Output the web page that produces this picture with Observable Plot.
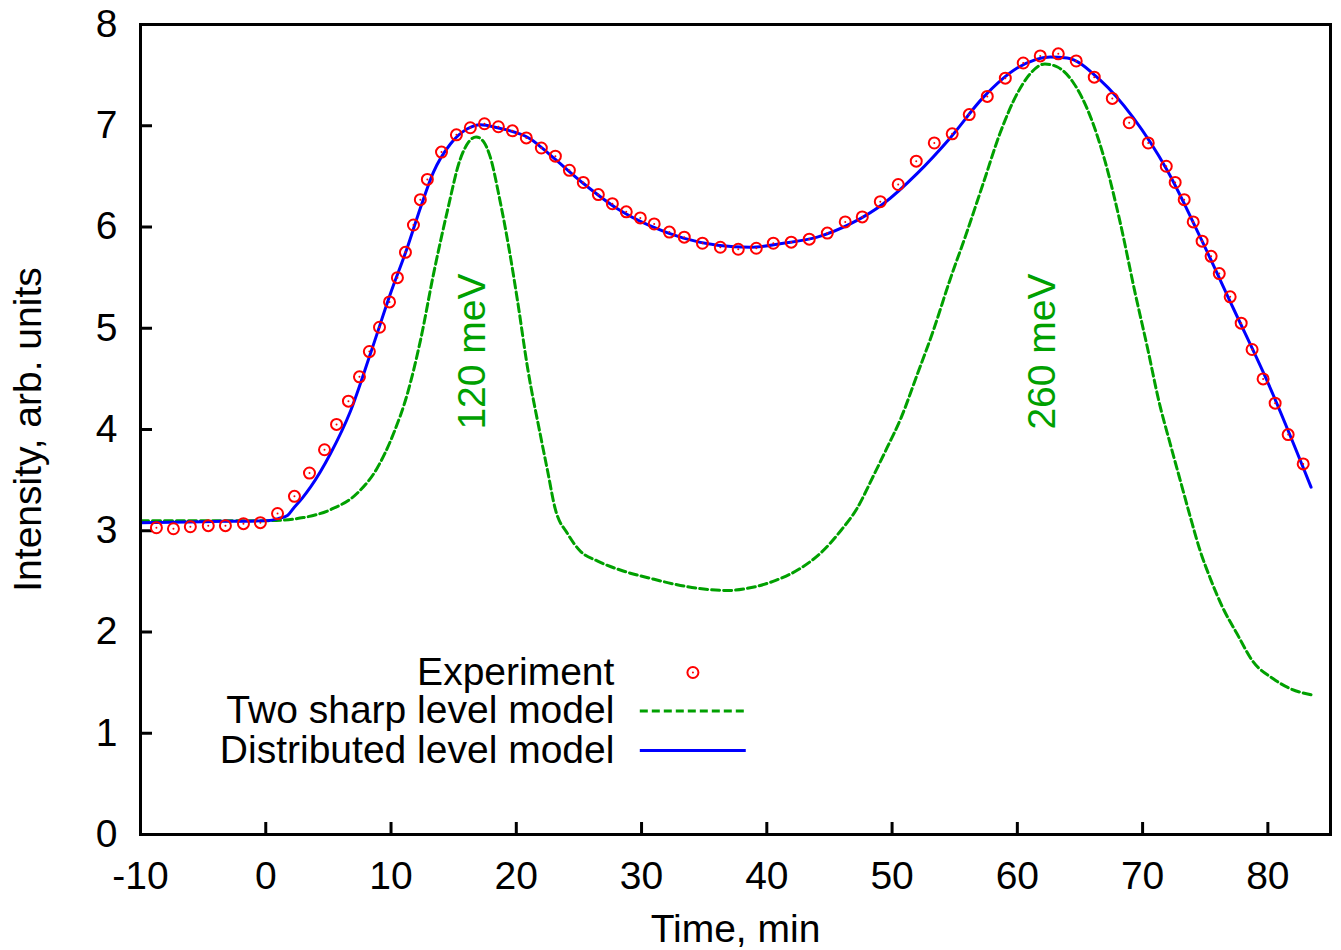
<!DOCTYPE html>
<html>
<head>
<meta charset="utf-8">
<script src="https://cdn.jsdelivr.net/npm/d3@7"></script>
<script src="https://cdn.jsdelivr.net/npm/@observablehq/plot@0.6"></script>
<style>
  body { margin: 0; background: #ffffff; }
  #chart svg { display: block; }
</style>
</head>
<body>
<div id="chart"></div>
<script>
// Experiment (red circles)
const expTime = [-8.73, -7.37, -6.02, -4.59, -3.22, -1.78, -0.43, 0.94, 2.29, 3.49, 4.69, 5.65, 6.60, 7.48, 8.27, 9.08, 9.88, 10.51, 11.15, 11.79, 12.34, 12.90, 14.03, 15.22, 16.33, 17.46, 18.57, 19.69, 20.80, 22.00, 23.12, 24.24, 25.35, 26.55, 27.67, 28.78, 29.90, 31.01, 32.22, 33.41, 34.86, 36.29, 37.72, 39.16, 40.52, 41.95, 43.39, 44.83, 46.26, 47.62, 49.06, 50.49, 51.93, 53.37, 54.80, 56.16, 57.60, 59.04, 60.47, 61.83, 63.27, 64.70, 66.14, 67.58, 68.93, 70.45, 71.89, 72.60, 73.32, 74.04, 74.75, 75.47, 76.12, 76.99, 77.87, 78.74, 79.62, 80.58, 81.62, 82.82];
const expIntensity = [3.03, 3.02, 3.04, 3.05, 3.05, 3.07, 3.08, 3.17, 3.34, 3.57, 3.80, 4.05, 4.28, 4.52, 4.77, 5.01, 5.26, 5.50, 5.75, 6.02, 6.27, 6.47, 6.74, 6.91, 6.98, 7.02, 6.99, 6.95, 6.88, 6.78, 6.70, 6.56, 6.44, 6.32, 6.23, 6.15, 6.09, 6.03, 5.95, 5.90, 5.84, 5.80, 5.78, 5.79, 5.84, 5.85, 5.88, 5.94, 6.05, 6.10, 6.25, 6.42, 6.65, 6.83, 6.92, 7.11, 7.29, 7.47, 7.62, 7.69, 7.71, 7.64, 7.48, 7.27, 7.03, 6.83, 6.60, 6.44, 6.27, 6.05, 5.86, 5.71, 5.54, 5.31, 5.05, 4.79, 4.50, 4.26, 3.95, 3.66];

// Two sharp level model (green dashed)
const sharpTime = [-10, -5, 0.4, 3.0, 5.2, 7.3, 8.9, 10.2, 11.3, 12.35, 13.4, 14.5, 15.5, 16.2, 16.8, 17.4, 17.9, 18.7, 19.4, 20.1, 20.9, 21.9, 22.5, 23.1, 24.1, 25.1, 26.5, 28.6, 30.7, 33.1, 35.3, 36.9, 38.4, 40.5, 42.7, 44.3, 45.9, 47.2, 48.5, 49.6, 50.7, 52.0, 53.3, 54.6, 56.0, 57.3, 58.6, 60.0, 61.0, 62.2, 63.2, 64.5, 65.8, 67.0, 68.2, 69.4, 70.4, 71.3, 72.2, 73.0, 73.8, 74.6, 75.4, 76.4, 77.55, 78.8, 80.4, 81.8, 83.45];
const sharpIntensity = [3.10, 3.10, 3.10, 3.13, 3.21, 3.37, 3.62, 3.96, 4.35, 4.88, 5.54, 6.16, 6.66, 6.84, 6.89, 6.84, 6.70, 6.26, 5.80, 5.27, 4.61, 3.96, 3.59, 3.22, 2.97, 2.80, 2.70, 2.60, 2.53, 2.46, 2.42, 2.41, 2.43, 2.50, 2.63, 2.78, 3.00, 3.22, 3.54, 3.82, 4.11, 4.54, 4.98, 5.47, 5.96, 6.44, 6.92, 7.32, 7.51, 7.61, 7.58, 7.42, 7.10, 6.65, 6.05, 5.35, 4.80, 4.28, 3.86, 3.50, 3.14, 2.80, 2.53, 2.24, 1.98, 1.71, 1.54, 1.44, 1.38];

// Distributed level model (blue solid)
const distTime = [-10, -5, 0.14, 1.0, 1.73, 2.2, 2.9, 3.57, 5.16, 6.76, 8.36, 9.95, 11.31, 12.35, 13.38, 14.74, 16.10, 17.13, 18.49, 21.13, 22.72, 25.36, 28.07, 30.70, 33.34, 36.05, 38.68, 41.32, 44.03, 46.66, 49.30, 52.01, 54.64, 57.28, 59.99, 62.63, 63.98, 66.62, 69.25, 71.96, 74.60, 77.23, 79.94, 83.45];
const distIntensity = [3.08, 3.09, 3.10, 3.12, 3.15, 3.22, 3.32, 3.43, 3.76, 4.18, 4.75, 5.34, 5.80, 6.19, 6.54, 6.82, 6.97, 7.01, 6.98, 6.87, 6.71, 6.43, 6.18, 6.01, 5.89, 5.82, 5.80, 5.84, 5.90, 6.03, 6.23, 6.53, 6.88, 7.28, 7.57, 7.68, 7.67, 7.45, 7.08, 6.56, 5.90, 5.20, 4.48, 3.43];

// Axis ticks
const xTicks = [-10, 0, 10, 20, 30, 40, 50, 60, 70, 80];
const yTicks = [0, 1, 2, 3, 4, 5, 6, 7, 8];

// Annotations
const peakLabels = ["120 meV", "260 meV"];
const peakTimes = [16.5, 62.0];
const peakLevels = [4.77, 4.77];

// Legend
const legendLabels = ["Experiment", "Two sharp level model", "Distributed level model"];

const FONT = "'Liberation Sans', Arial, Helvetica, sans-serif";
const FS = 39;
const GREEN = "#00a000";
const BLUE = "#0000ff";
const RED = "#ff0000";

const W = 1341, H = 950;
const mL = 140, mR = 11, mT = 24, mB = 116;
const innerW = W - mL - mR, innerH = H - mT - mB;

const expData = expTime.map((t, i) => ({t, v: expIntensity[i]}));
const sharpData = sharpTime.map((t, i) => ({t, v: sharpIntensity[i]}));
const distData = distTime.map((t, i) => ({t, v: distIntensity[i]}));
const peakData = peakLabels.map((s, i) => ({s, t: peakTimes[i], v: peakLevels[i]}));

// legend layout (data units)
const legTextX = 27.83;
const legRowsY = [1.60, 1.22, 0.83];
const legLineX1 = 29.9, legLineX2 = 38.36, legDotX = 34.1;
const legendText = legendLabels.map((s, i) => ({s, y: legRowsY[i]}));

const chart = Plot.plot({
  width: W,
  height: H,
  marginLeft: mL,
  marginRight: mR,
  marginTop: mT,
  marginBottom: mB,
  style: {fontFamily: FONT, fontSize: FS + "px", background: "#ffffff", color: "#000"},
  x: {domain: [-10, 85]},
  y: {domain: [0, 8]},
  marks: [
    // inward ticks
    Plot.ruleX(xTicks, {x: d => d, insetTop: innerH - 12, stroke: "#000", strokeWidth: 3}),
    Plot.ruleY(yTicks, {y: d => d, insetRight: innerW - 12, stroke: "#000", strokeWidth: 3}),
    Plot.axisX({ticks: xTicks, tickSize: 0, tickPadding: 27, tickFormat: d => String(d), label: null, fontSize: FS}),
    Plot.axisY({ticks: yTicks, tickSize: 0, tickPadding: 23, tickFormat: d => String(d), label: null, fontSize: FS}),
    // curves
    Plot.line(sharpData, {x: "t", y: "v", stroke: GREEN, strokeWidth: 3, strokeDasharray: "8,4", curve: "monotone-x"}),
    Plot.line(distData, {x: "t", y: "v", stroke: BLUE, strokeWidth: 3, curve: "monotone-x"}),
    Plot.dot(expData, {x: "t", y: "v", r: 5.5, stroke: RED, strokeWidth: 2, fill: "none"}),
    Plot.dot(expData, {x: "t", y: "v", r: 1, fill: RED, stroke: "none"}),
    // peak labels
    Plot.text(peakData, {x: "t", y: "v", text: "s", rotate: -90, fill: GREEN, fontSize: FS, textAnchor: "middle", lineAnchor: "middle"}),
    // legend
    Plot.text(legendText, {x: () => legTextX, y: "y", text: "s", textAnchor: "end", lineAnchor: "middle", fontSize: FS, fill: "#000"}),
    Plot.dot([legRowsY[0]], {x: () => legDotX, y: d => d, r: 5.5, stroke: RED, strokeWidth: 2, fill: "none"}),
    Plot.dot([legRowsY[0]], {x: () => legDotX, y: d => d, r: 1, fill: RED, stroke: "none"}),
    Plot.ruleY([legRowsY[1]], {y: d => d, x1: legLineX1, x2: legLineX2, stroke: GREEN, strokeWidth: 3, strokeDasharray: "8,4"}),
    Plot.ruleY([legRowsY[2]], {y: d => d, x1: legLineX1, x2: legLineX2, stroke: BLUE, strokeWidth: 3}),
    // axis titles
    Plot.text(["Time, min"], {frameAnchor: "bottom", dy: 95, text: d => d, fontSize: FS, lineAnchor: "middle", fill: "#000"}),
    Plot.text(["Intensity, arb. units"], {frameAnchor: "left", dx: -112, rotate: -90, text: d => d, fontSize: FS, lineAnchor: "middle", textAnchor: "middle", fill: "#000"}),
    Plot.frame({stroke: "#000", strokeWidth: 3})
  ]
});

document.getElementById("chart").appendChild(chart);
</script>
</body>
</html>
